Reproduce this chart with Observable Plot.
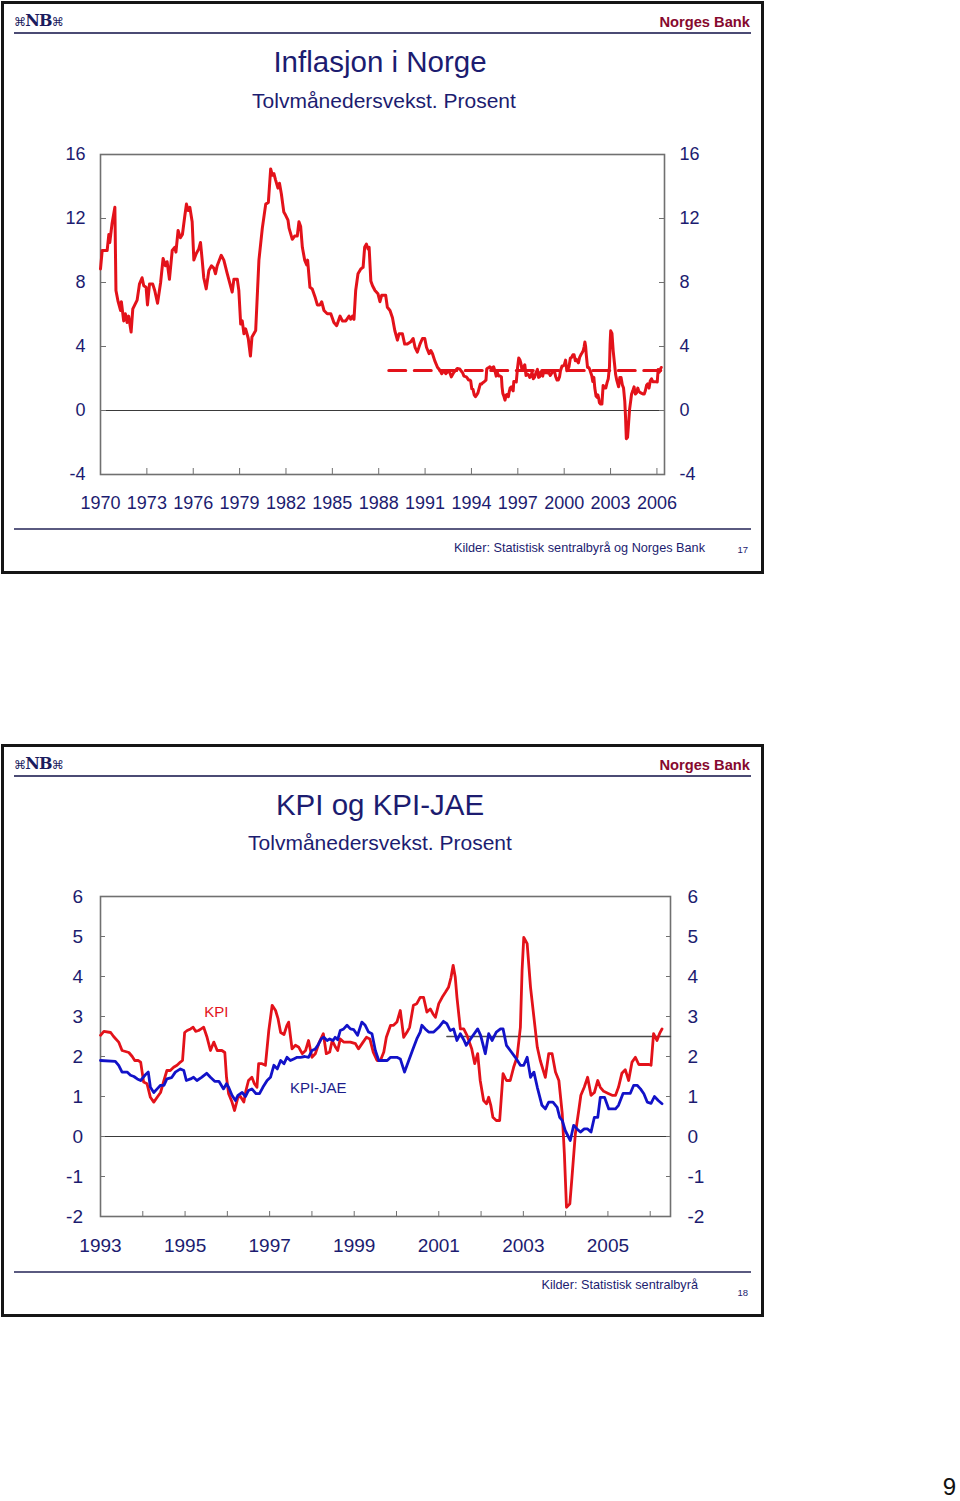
<!DOCTYPE html>
<html>
<head>
<meta charset="utf-8">
<script src="https://cdn.jsdelivr.net/npm/d3@7"></script>
<script src="https://cdn.jsdelivr.net/npm/@observablehq/plot@0.6"></script>
<style>
  body { margin: 0; background: #fff; }
  #page { position: relative; width: 960px; height: 1501px; overflow: hidden; font-family: "Liberation Sans", Arial, Helvetica, sans-serif; background: #fff; }
  .slide { position: absolute; box-sizing: border-box; border: 3px solid #161616; }
  .t { position: absolute; white-space: nowrap; line-height: 1; }
  .navy { color: #1c1c70; }
  .hline { position: absolute; }
</style>
</head>
<body>
<div id="page"></div>
<script>
// ---------- DATA ----------
// Top chart: 12-month CPI growth 1970-1992
const histYear = [1970.00,1970.11,1970.43,1970.54,1970.60,1970.75,1970.93,1971.00,1971.14,1971.30,1971.35,1971.50,1971.61,1971.72,1971.82,1971.98,
  1972.09,1972.37,1972.52,1972.69,1972.80,1972.95,1973.04,1973.17,1973.38,1973.51,1973.69,1973.89,1974.05,1974.20,1974.31,1974.46,1974.64,1974.80,1974.88,
  1975.02,1975.17,1975.30,1975.46,1975.56,1975.67,1975.78,1975.93,1976.04,1976.19,1976.36,1976.47,1976.58,1976.68,1976.84,1977.01,1977.18,1977.33,1977.44,
  1977.55,1977.81,1977.98,1978.20,1978.52,1978.63,1978.85,1978.95,1979.07,1979.17,1979.28,1979.39,1979.56,1979.70,1979.80,1980.04,1980.25,1980.47,1980.69,
  1980.86,1981.01,1981.12,1981.22,1981.33,1981.48,1981.58,1981.70,1981.86,1981.98,1982.13,1982.20,1982.41,1982.56,1982.73,1982.84,1982.95,1983.06,1983.21,
  1983.34,1983.40,1983.55,1983.70,1983.88,1984.03,1984.20,1984.31,1984.46,1984.67,1984.90,1985.10,1985.28,1985.50,1985.65,1985.87,1986.08,1986.19,1986.30,
  1986.40,1986.51,1986.66,1986.84,1986.99,1987.09,1987.20,1987.31,1987.38,1987.49,1987.60,1987.76,1987.95,1988.08,1988.19,1988.45,1988.56,1988.73,1988.89,
  1989.04,1989.21,1989.32,1989.53,1989.68,1989.85,1990.08,1990.23,1990.35,1990.50,1990.67,1990.83,1990.98,1991.09,1991.26,1991.37,1991.48,1991.63,1991.80,
  1991.97,1992.08,1992.20,1992.34,1992.55,1992.70,1992.87];
const histValue = [8.85,10.0,10.0,11.0,10.5,11.7,12.7,7.5,6.8,6.25,6.8,5.6,6.05,5.5,5.9,4.9,
  6.35,6.9,7.9,8.3,7.8,7.7,6.6,7.9,7.9,7.5,6.7,8.0,9.5,9.05,9.3,8.2,10.0,10.2,9.9,
  11.25,10.8,11.0,12.2,12.9,12.5,12.7,11.8,9.4,9.8,10.1,10.5,9.4,8.3,7.6,8.75,9.05,8.9,8.55,
  9.05,9.7,9.4,8.55,7.4,8.2,8.2,7.5,5.4,5.6,4.8,5.1,4.5,3.4,4.6,5.0,9.4,11.4,12.9,
  13.0,15.1,14.7,14.8,14.4,13.9,14.2,13.55,12.4,12.2,11.9,11.4,10.7,10.9,10.9,11.8,11.5,10.2,9.4,
  9.1,9.4,7.7,7.6,7.1,6.6,6.6,6.8,6.25,6.05,6.05,5.5,5.3,5.9,5.6,5.6,5.9,5.7,5.9,
  5.7,7.5,8.55,8.85,8.95,10.2,10.4,10.1,10.2,8.1,7.8,7.5,7.3,6.8,7.2,7.2,6.45,6.25,5.8,
  5.0,4.4,4.8,4.8,4.15,4.15,4.3,4.5,3.95,3.65,4.15,4.5,4.5,3.95,3.55,3.75,3.55,3.1,2.7,
  2.5,2.3,2.5,2.3,2.5,2.1,2.4];

// KPI (12-month growth) 1993-2006
const kpiYear = [1993.00,1993.08,1993.24,1993.31,1993.43,1993.51,1993.67,1993.75,1993.81,1993.89,1993.95,1994.02,1994.10,1994.18,1994.26,1994.34,
  1994.42,1994.50,1994.57,1994.65,1994.73,1994.81,1994.89,1994.94,1994.99,1995.05,1995.13,1995.19,1995.25,1995.32,1995.38,1995.44,1995.52,1995.60,
  1995.68,1995.76,1995.87,1995.94,1995.98,1996.03,1996.11,1996.17,1996.25,1996.31,1996.39,1996.44,1996.50,1996.58,1996.64,1996.70,1996.74,1996.82,
  1996.90,1996.98,1997.06,1997.14,1997.20,1997.26,1997.34,1997.41,1997.45,1997.53,1997.61,1997.69,1997.77,1997.85,1997.92,1998.00,1998.08,1998.16,
  1998.27,1998.34,1998.42,1998.48,1998.56,1998.61,1998.67,1998.75,1998.91,1999.03,1999.10,1999.21,1999.29,1999.37,1999.45,1999.54,1999.62,1999.70,
  1999.76,1999.86,1999.93,2000.01,2000.09,2000.17,2000.25,2000.31,2000.40,2000.48,2000.56,2000.64,2000.72,2000.80,2000.86,2000.92,2001.00,2001.08,
  2001.16,2001.23,2001.29,2001.34,2001.39,2001.43,2001.51,2001.59,2001.67,2001.78,2001.85,2001.92,2001.98,2002.06,2002.13,2002.18,2002.23,2002.28,
  2002.36,2002.44,2002.52,2002.60,2002.69,2002.77,2002.85,2002.93,2002.97,2003.01,2003.09,2003.17,2003.25,2003.33,2003.40,2003.52,2003.60,2003.68,
  2003.76,2003.84,2003.92,2003.97,2004.02,2004.10,2004.15,2004.23,2004.31,2004.36,2004.44,2004.52,2004.60,2004.68,2004.76,2004.82,2004.90,2005.02,
  2005.10,2005.18,2005.25,2005.33,2005.41,2005.49,2005.57,2005.65,2005.73,2005.85,2005.97,2006.02,2006.08,2006.16,2006.22,2006.28];
const kpiValue = [2.53,2.63,2.60,2.50,2.36,2.15,2.10,2.00,1.90,1.90,1.86,1.36,1.32,0.98,0.86,0.98,
  1.10,1.40,1.65,1.65,1.73,1.78,1.86,1.90,2.60,2.65,2.69,2.73,2.63,2.65,2.69,2.73,2.48,2.15,
  2.36,2.15,2.15,2.10,1.48,1.07,0.86,0.65,0.98,1.00,0.86,1.15,1.40,1.48,1.32,1.23,1.82,1.82,
  1.78,2.65,3.28,3.15,2.94,2.60,2.55,2.78,2.86,2.19,2.28,2.23,2.07,2.15,2.40,1.98,2.07,2.32,
  2.57,2.07,2.11,2.40,2.23,2.15,2.44,2.36,2.36,2.32,2.19,2.36,2.48,2.44,2.11,1.90,1.90,2.11,
  2.48,2.78,2.78,2.86,3.15,2.48,2.61,2.73,3.28,3.32,3.48,3.48,3.11,3.19,3.07,2.98,3.32,3.48,
  3.61,3.73,3.98,4.28,3.98,3.48,2.69,2.69,2.52,2.19,1.82,2.07,1.40,0.90,0.82,0.98,0.78,0.48,
  0.40,0.40,1.57,1.40,1.40,1.73,1.98,2.73,4.15,4.98,4.82,3.73,2.98,2.23,1.90,1.48,2.07,2.07,
  1.61,1.40,0.57,-0.43,-1.77,-1.68,-1.02,0.07,0.65,1.03,1.23,1.48,1.03,1.10,1.40,1.23,1.13,1.07,
  1.03,1.03,1.23,1.58,1.67,1.40,1.86,1.98,1.80,1.80,1.80,1.78,2.57,2.40,2.57,2.69];

// KPI-JAE (12-month growth) 1993-2006
const jaeYear = [1993.00,1993.35,1993.43,1993.51,1993.63,1993.71,1993.79,1993.87,1993.95,1994.05,1994.13,1994.18,1994.26,1994.34,1994.42,1994.50,
  1994.57,1994.68,1994.77,1994.89,1994.97,1995.03,1995.13,1995.20,1995.28,1995.39,1995.51,1995.60,1995.70,1995.80,1995.91,1995.98,1996.03,1996.11,
  1996.19,1996.25,1996.35,1996.43,1996.50,1996.58,1996.68,1996.76,1996.84,1996.94,1997.02,1997.10,1997.18,1997.26,1997.34,1997.41,1997.49,1997.57,
  1997.65,1997.73,1997.83,1997.92,1998.00,1998.08,1998.14,1998.22,1998.28,1998.36,1998.42,1998.50,1998.55,1998.61,1998.67,1998.75,1998.83,1998.91,
  1998.99,1999.08,1999.18,1999.26,1999.34,1999.42,1999.50,1999.58,1999.70,1999.78,1999.86,2000.01,2000.09,2000.19,2000.29,2000.39,2000.48,2000.56,
  2000.60,2000.68,2000.76,2000.88,2001.00,2001.11,2001.19,2001.27,2001.35,2001.43,2001.51,2001.59,2001.65,2001.78,2001.92,2001.99,2002.10,2002.18,
  2002.26,2002.36,2002.46,2002.52,2002.60,2002.69,2002.81,2002.93,2003.01,2003.09,2003.17,2003.25,2003.33,2003.44,2003.52,2003.60,2003.70,2003.80,
  2003.86,2003.92,2003.99,2004.11,2004.19,2004.27,2004.35,2004.44,2004.52,2004.60,2004.68,2004.76,2004.82,2004.92,2005.02,2005.18,2005.25,2005.36,
  2005.45,2005.53,2005.61,2005.69,2005.77,2005.85,2005.93,2006.02,2006.10,2006.19,2006.28];
const jaeValue = [1.90,1.88,1.78,1.61,1.61,1.53,1.50,1.44,1.40,1.53,1.61,1.23,1.10,1.19,1.28,1.28,
  1.44,1.47,1.61,1.69,1.65,1.40,1.44,1.48,1.40,1.48,1.58,1.48,1.38,1.38,1.19,1.32,1.23,1.03,
  0.90,1.03,1.10,1.00,1.15,1.19,1.07,1.07,1.23,1.40,1.48,1.78,1.69,1.90,1.82,1.98,1.90,1.94,
  1.98,1.98,2.00,1.98,2.15,2.19,2.28,2.44,2.48,2.40,2.44,2.40,2.48,2.42,2.65,2.69,2.78,2.69,
  2.67,2.53,2.86,2.78,2.61,2.57,2.15,1.90,1.90,1.90,1.98,1.98,1.94,1.61,1.90,2.19,2.44,2.61,
  2.78,2.69,2.61,2.61,2.73,2.88,2.82,2.65,2.69,2.40,2.57,2.42,2.28,2.48,2.69,2.53,2.07,2.57,
  2.40,2.61,2.69,2.69,2.28,2.15,1.98,1.78,1.78,1.98,1.48,1.61,1.23,0.78,0.69,0.86,0.86,0.73,
  0.48,0.40,0.15,-0.10,0.28,0.19,0.11,0.19,0.19,0.11,0.48,0.48,0.98,0.98,0.69,0.69,0.78,1.08,
  1.08,1.08,1.28,1.28,1.19,1.07,0.86,0.83,1.00,0.90,0.82];

// Inflation target 2.5 %
const targetTopYear = [1988.65, 2006.49];
const targetBottomYear = [2001.19, 2006.48];
const targetValue = 2.5;

// Axis ticks
const topYTicks = [-4, 0, 4, 8, 12, 16];
const topXTicks = [1970, 1973, 1976, 1979, 1982, 1985, 1988, 1991, 1994, 1997, 2000, 2003, 2006];
const botYTicks = [-2, -1, 0, 1, 2, 3, 4, 5, 6];
const botXTickYears = [1994, 1995, 1996, 1997, 1998, 1999, 2000, 2001, 2002, 2003, 2004, 2005, 2006];
const botXLabelYears = [1993, 1995, 1997, 1999, 2001, 2003, 2005];

// Series labels in bottom chart
const labelText = ["KPI", "KPI-JAE"];
const labelYear = [1995.74, 1998.15];
const labelValue = [3.1, 1.2];
const labelColor = ["#e3121a", "#1c1c8a"];

// ---------- BUILD ----------
(function () {
const red = "#e3121a", blue = "#1212c8", navy = "#1c1c70", frameGray = "#707070";
const font = '"Liberation Sans", Arial, Helvetica, sans-serif';
const page = document.getElementById("page");

function el(cls, css, text) {
  const d = document.createElement("div");
  d.className = cls;
  Object.assign(d.style, css);
  if (text != null) d.textContent = text;
  page.appendChild(d);
  return d;
}

function chrome(y0, sourceText, sourceRight, sourceTop, num) {
  el("slide", {left: "1px", top: y0 + "px", width: "763px", height: "573px"});
  const logo = el("t", {left: "14px", top: (y0 + 12) + "px", color: "#1c1c5e", fontFamily: '"DejaVu Serif", "Liberation Serif", serif', fontWeight: "bold", fontSize: "16px", letterSpacing: "-0.8px"});
  logo.innerHTML = '<span style="font-size:12px;font-weight:normal">⌘</span>NB<span style="font-size:12px;font-weight:normal">⌘</span>';
  el("t", {right: (960 - 750) + "px", top: (y0 + 14) + "px", color: "#86092e", fontWeight: "bold", fontSize: "14.7px"}, "Norges Bank");
  el("hline", {left: "14px", top: (y0 + 31) + "px", width: "737px", height: "2px", background: "#4b4b74"});
  el("hline", {left: "14px", top: (y0 + 527) + "px", width: "737px", height: "1.5px", background: "#5a5a80"});
  el("t navy", {right: (960 - sourceRight) + "px", top: (y0 + sourceTop) + "px", fontSize: "12.7px"}, sourceText);
  el("t navy", {right: (960 - 748) + "px", top: (y0 + 543.5) + "px", fontSize: "9.5px"}, num);
}

// Slide 1
chrome(1, "Kilder: Statistisk sentralbyrå og Norges Bank", 705, 540.5, "17");
el("t navy", {left: "380px", top: "46.5px", fontSize: "29.5px", transform: "translateX(-50%)"}, "Inflasjon i Norge");
el("t navy", {left: "384px", top: "89.7px", fontSize: "21px", transform: "translateX(-50%)"}, "Tolvmånedersvekst. Prosent");

// Slide 2
chrome(744, "Kilder: Statistisk sentralbyrå", 698, 534.8, "18");
el("t navy", {left: "380px", top: "789.5px", fontSize: "29.5px", transform: "translateX(-50%)"}, "KPI og KPI-JAE");
el("t navy", {left: "380px", top: "831.7px", fontSize: "21px", transform: "translateX(-50%)"}, "Tolvmånedersvekst. Prosent");

// Page number
el("t", {right: "4px", top: "1476px", fontSize: "24px", lineHeight: "22px", color: "#111"}, "9");

// ---------- CHARTS ----------
const inflation = histYear.map((y, i) => ({year: y, value: histValue[i]}))
  .concat(kpiYear.map((y, i) => ({year: y, value: kpiValue[i]})));
const kpi = kpiYear.map((y, i) => ({year: y, value: kpiValue[i]}));
const jae = jaeYear.map((y, i) => ({year: y, value: jaeValue[i]}));
const targetTop = targetTopYear.map(y => ({year: y, value: targetValue}));
const targetBottom = targetBottomYear.map(y => ({year: y, value: targetValue}));
const seriesLabels = labelText.map((t, i) => ({label: t, year: labelYear[i], value: labelValue[i], color: labelColor[i]}));

const fmt = d => String(d);

const chartTop = Plot.plot({
  width: 760, height: 400,
  marginLeft: 100, marginRight: 96, marginTop: 24, marginBottom: 56,
  style: {fontFamily: font, fontSize: "18px", color: navy, background: "transparent", overflow: "visible"},
  x: {domain: [1970, 2006.49], label: null},
  y: {domain: [-4, 16], label: null},
  marks: [
    Plot.frame({stroke: frameGray, strokeWidth: 1.6}),
    Plot.ruleY([0], {stroke: "#3a3a3a", strokeWidth: 1.2}),
    Plot.axisY(topYTicks, {anchor: "left", tickSize: -6, tickPadding: 21, tickFormat: fmt, stroke: frameGray, fill: navy, label: null}),
    Plot.axisY(topYTicks, {anchor: "right", tickSize: -6, tickPadding: 21, tickFormat: fmt, stroke: frameGray, fill: navy, label: null}),
    Plot.axisX(topXTicks, {anchor: "bottom", tickSize: -6, tickPadding: 27.5, tickFormat: fmt, stroke: frameGray, fill: navy, label: null}),
    Plot.line(targetTop, {x: "year", y: "value", stroke: red, strokeWidth: 3, strokeDasharray: "17 8.5"}),
    Plot.line(inflation, {x: "year", y: "value", stroke: red, strokeWidth: 3, strokeLinejoin: "round"})
  ]
});
Object.assign(chartTop.style, {position: "absolute", left: "0px", top: "130px"});
page.appendChild(chartTop);

const chartBottom = Plot.plot({
  width: 760, height: 400,
  marginLeft: 100, marginRight: 90, marginTop: 26, marginBottom: 54,
  style: {fontFamily: font, fontSize: "19px", color: navy, background: "transparent", overflow: "visible"},
  x: {domain: [1993, 2006.48], label: null},
  y: {domain: [-2, 6], label: null},
  color: {type: "identity"},
  marks: [
    Plot.frame({stroke: frameGray, strokeWidth: 1.6}),
    Plot.ruleY([0], {stroke: "#3a3a3a", strokeWidth: 1.2}),
    Plot.line(targetBottom, {x: "year", y: "value", stroke: "#4a4a4a", strokeWidth: 1.3}),
    Plot.axisY(botYTicks, {anchor: "left", tickSize: -5, tickPadding: 22.5, tickFormat: fmt, stroke: frameGray, fill: navy, label: null}),
    Plot.axisY(botYTicks, {anchor: "right", tickSize: -5, tickPadding: 22, tickFormat: fmt, stroke: frameGray, fill: navy, label: null}),
    Plot.axisX(botXTickYears, {anchor: "bottom", tickSize: -5, tickPadding: 0, tickFormat: () => "", stroke: frameGray, label: null}),
    Plot.axisX(botXLabelYears, {anchor: "bottom", tickSize: 0, tickPadding: 22, tickFormat: fmt, fill: navy, label: null}),
    Plot.line(kpi, {x: "year", y: "value", stroke: red, strokeWidth: 2.8, strokeLinejoin: "round"}),
    Plot.line(jae, {x: "year", y: "value", stroke: blue, strokeWidth: 2.8, strokeLinejoin: "round"}),
    Plot.text(seriesLabels, {x: "year", y: "value", text: "label", fill: "color", fontSize: 15})
  ]
});
Object.assign(chartBottom.style, {position: "absolute", left: "0px", top: "870px"});
page.appendChild(chartBottom);
})();
</script>
</body>
</html>
